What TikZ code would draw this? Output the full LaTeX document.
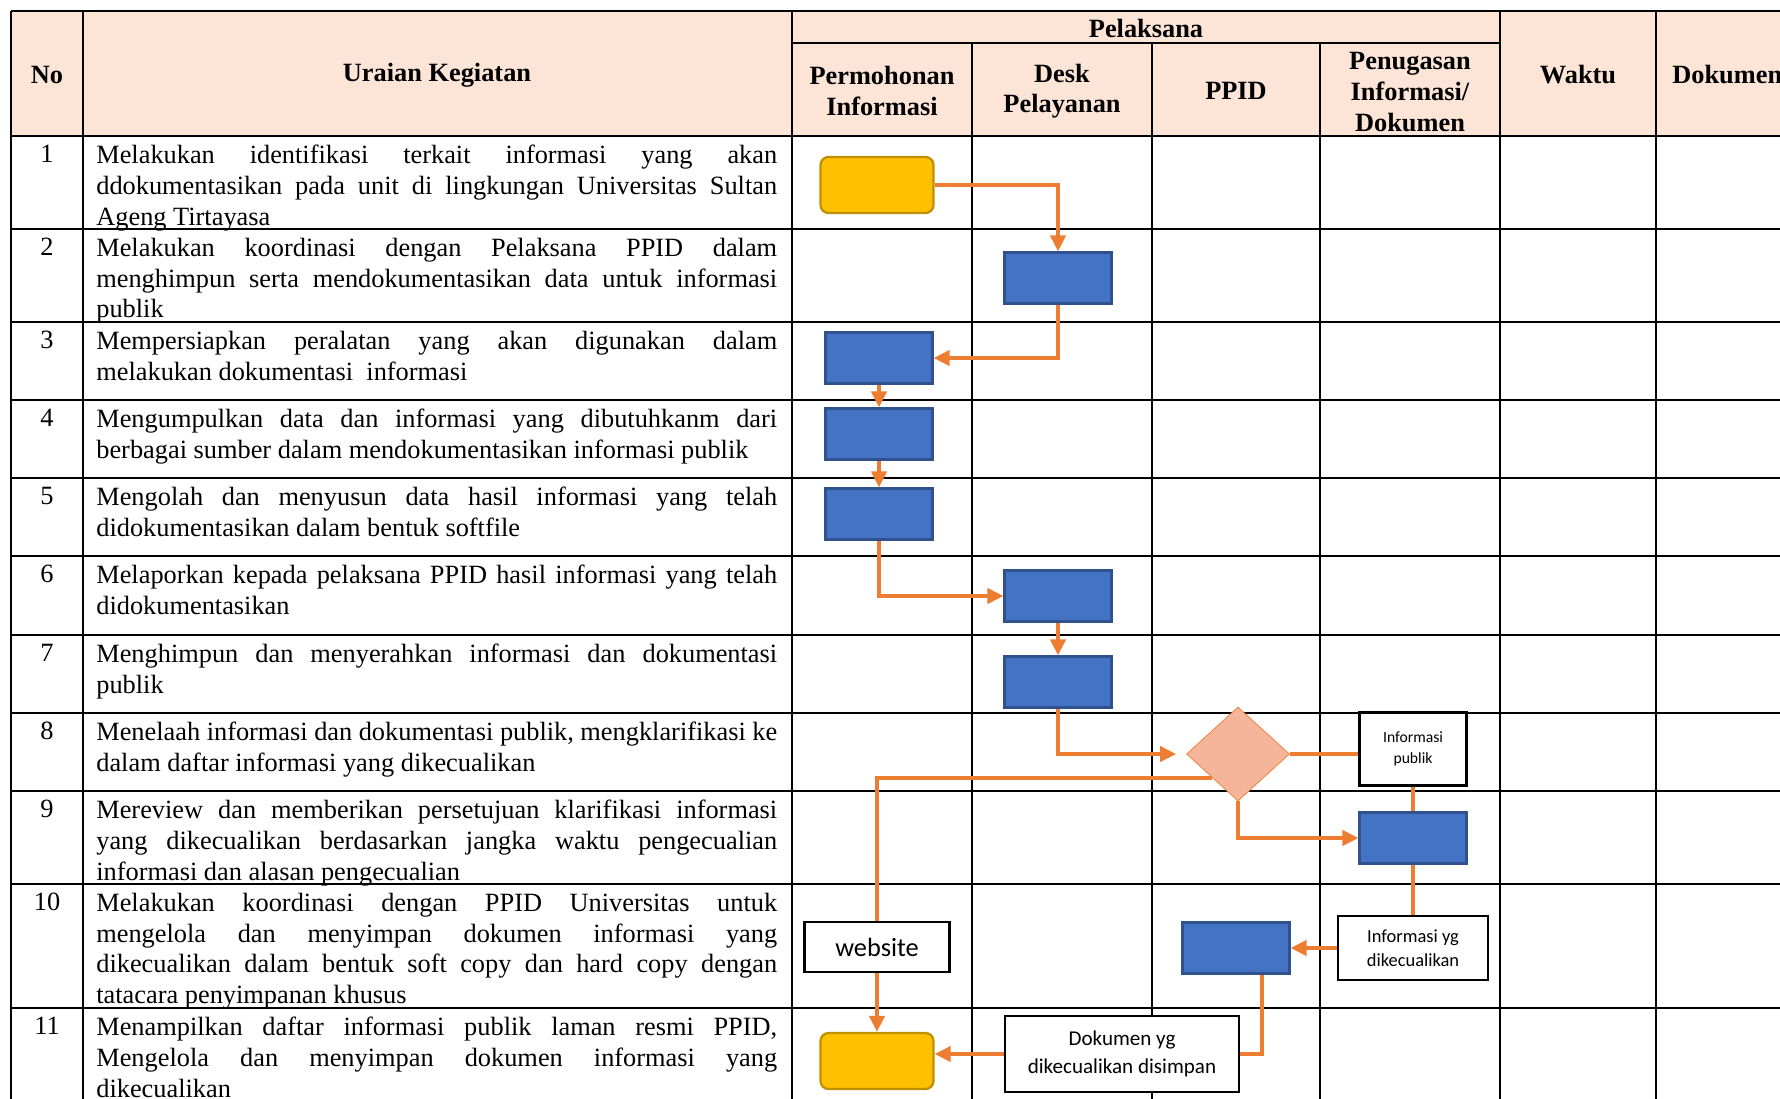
\documentclass[tikz,border=0pt]{standalone}
\usepackage{fontspec}
\setmainfont{Liberation Serif}
\newfontfamily\calibri{Carlito}
\usetikzlibrary{shapes.geometric,arrows.meta,positioning}
\definecolor{headfill}{HTML}{FCE4D6}
\definecolor{flowline}{HTML}{ED7D31}
\definecolor{boxblue}{HTML}{4472C4}
\definecolor{boxblueline}{HTML}{2F528F}
\definecolor{startfill}{HTML}{FFC000}
\definecolor{startline}{HTML}{BF9000}
\definecolor{decfill}{HTML}{F5B59A}
\tolerance=9999
\hbadness=10000
\begin{document}
\begin{tikzpicture}[x=0.02cm, y=-0.02cm,
  rowtext/.style={anchor=north west, inner sep=0pt, text width=13.62cm, align=justify, font=\fontsize{15}{17.4}\selectfont},
  num/.style={anchor=north, inner sep=0pt, font=\fontsize{15}{17.4}\selectfont},
  head/.style={align=center, inner sep=0pt, font=\fontsize{15}{17.4}\selectfont\bfseries},
  task/.style={draw=boxblueline, fill=boxblue, line width=1.2pt, minimum width=2.14cm, minimum height=1.02cm, inner sep=0pt},
  terminal/.style={draw=startline, fill=startfill, line width=1.3pt, rounded corners=0.16cm, minimum width=2.26cm, minimum height=1.12cm, inner sep=0pt},
  note/.style={draw, fill=white, align=center, inner sep=0pt},
  flow/.style={draw=flowline, line width=2.2pt},
  arr/.style={flow, -{Triangle[length=0.32cm, width=0.3cm]}}
]
  \clip (0,0) rectangle (1780,1098);
  \fill[headfill] (11,11) rectangle (1800,136);
  \foreach \y in {11,136,229,322,400,478,556,635,713,791,884,1008}
  \draw[line width=1.3pt] (11,\y) -- (1800,\y);
  \draw[line width=1.3pt] (792,43) -- (1500,43);
  \foreach \x in {11,83,792,1500,1656}
  \draw[line width=1pt] (\x,11) -- (\x,1110);
  \foreach \x in {972,1152,1320}
  \draw[line width=1pt] (\x,43) -- (\x,1110);

  \node[head] (hno) at (47,75) {No};
  \node[head] (hura) at (437,75) {Uraian Kegiatan};
  \node[head] (hpel) at (1146,28) {Pelaksana};
  \node[head] (hper) at (882,91) {Permohonan\\Informasi};
  \node[head] (hdesk) at (1062,91) {Desk\\Pelayanan};
  \node[head] (hppid) at (1236,91) {PPID};
  \node[head] (hpen) at (1410,92) {Penugasan\\Informasi/\\Dokumen};
  \node[head] (hwak) at (1578,75) {Waktu};
  \node[head, anchor=west] (hdok) at (1672,75) {Dokumen};

  \foreach \y/\n/\t in {
    136/1/{Melakukan identifikasi terkait informasi yang akan\linebreak ddokumentasikan pada unit di lingkungan Universitas Sultan\linebreak Ageng Tirtayasa},
    229/2/{Melakukan koordinasi dengan Pelaksana PPID dalam\linebreak menghimpun serta mendokumentasikan data untuk informasi\linebreak publik},
    322/3/{Mempersiapkan peralatan yang akan digunakan dalam\linebreak melakukan dokumentasi \ informasi},
    400/4/{Mengumpulkan data dan informasi yang dibutuhkanm dari\linebreak berbagai sumber dalam mendokumentasikan informasi publik},
    478/5/{Mengolah dan menyusun data hasil informasi yang telah\linebreak didokumentasikan dalam bentuk softfile},
    556/6/{Melaporkan kepada pelaksana PPID hasil informasi yang telah\linebreak didokumentasikan},
    635/7/{Menghimpun dan menyerahkan informasi dan dokumentasi\linebreak publik},
    713/8/{Menelaah informasi dan dokumentasi publik, mengklarifikasi ke\linebreak dalam daftar informasi yang dikecualikan},
    791/9/{Mereview dan memberikan persetujuan klarifikasi informasi\linebreak yang dikecualikan berdasarkan jangka waktu pengecualian\linebreak informasi dan alasan pengecualian},
    884/10/{Melakukan koordinasi dengan PPID Universitas untuk\linebreak mengelola dan menyimpan dokumen informasi yang\linebreak dikecualikan dalam bentuk soft copy dan hard copy dengan\linebreak tatacara penyimpanan khusus},
    1008/11/{Menampilkan daftar informasi publik laman resmi PPID,\linebreak Mengelola dan menyimpan dokumen informasi yang\linebreak dikecualikan}}{
    \node[num] (no\n) at (47,\y+9) {\n};
    \node[rowtext] (ur\n) at (96,\y+9) {\t};
  }

  \node[terminal] (s1) at (877,185) {};
  \node[task] (b2) at (1058,278) {};
  \node[task] (b3) at (879,358) {};
  \node[task] (b4) at (879,434) {};
  \node[task] (b5) at (879,514) {};
  \node[task] (b6) at (1058,596) {};
  \node[task] (b7) at (1058,682) {};
  \node[diamond, draw=flowline, fill=decfill, minimum width=2.06cm, minimum height=1.88cm, inner sep=0pt] (dec) at (1238,754) {};
  \node[note, line width=1.4pt, minimum width=2.14cm, minimum height=1.46cm, font=\calibri\fontsize{8.9}{12.3}\selectfont] (pub) at (1413,749) {Informasi\\publik};
  \node[task] (b9) at (1413,838) {};
  \node[note, line width=0.8pt, minimum width=3cm, minimum height=1.28cm, font=\calibri\fontsize{10.5}{13.5}\selectfont] (kec) at (1413,948) {Informasi yg\\dikecualikan};
  \node[task] (b10) at (1236,948) {};
  \node[note, line width=1.4pt, minimum width=2.9cm, minimum height=1cm, font=\calibri\fontsize{15}{18}\selectfont] (web) at (877,947) {website};
  \node[note, line width=1.4pt, minimum width=4.68cm, minimum height=1.52cm, font=\calibri\fontsize{12}{16.2}\selectfont] (sim) at (1122,1054) {Dokumen yg\\dikecualikan disimpan};
  \node[terminal] (s11) at (877,1061) {};

  \draw[arr] (s1.east) -| (b2.north);
  \draw[arr] (b2.south) |- (b3.east);
  \draw[arr] (b3) -- (b4);
  \draw[arr] (b4) -- (b5);
  \draw[arr] (b5.south) |- (b6.west);
  \draw[arr] (b6) -- (b7);
  \draw[arr, shorten >=0.2cm] (b7.south) |- (dec.west);
  \draw[flow] (dec.east) -- (dec.east -| pub.west);
  \draw[flow] (pub) -- (b9);
  \draw[flow] (b9) -- (kec);
  \draw[flow] (dec.south west) -| (web.north);
  \draw[arr] (dec.south) |- (b9.west);
  \draw[arr] (kec.west) -- (kec.west -| b10.east);
  \draw[flow] ([xshift=0.52cm]b10.south) |- (sim.east);
  \draw[arr] (sim.west) -- (sim.west -| s11.east);
  \draw[arr] (web) -- (s11);
\end{tikzpicture}
\end{document}
